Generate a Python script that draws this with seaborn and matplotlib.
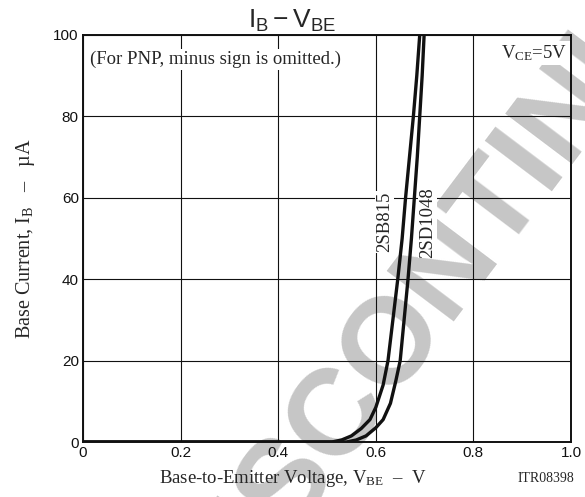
import numpy as np
import pandas as pd
import matplotlib
matplotlib.use("Agg")
import matplotlib.pyplot as plt
import seaborn as sns

# Data (V_BE in V, I_B in uA)
v_2sb815 = [0.0, 0.51, 0.53, 0.55, 0.57, 0.588, 0.60, 0.615, 0.625, 0.635, 0.645, 0.654, 0.661, 0.669, 0.677, 0.684, 0.690, 0.693]
i_2sb815 = [0.0, 0.0, 0.5, 1.5, 3.3, 5.5, 8.5, 14, 20, 30, 40, 50, 60, 70, 80, 90, 100, 105]
v_2sd1048 = [0.0, 0.54, 0.56, 0.58, 0.60, 0.615, 0.63, 0.641, 0.650, 0.658, 0.666, 0.673, 0.679, 0.685, 0.690, 0.695, 0.699, 0.701]
i_2sd1048 = [0.0, 0.0, 0.5, 1.5, 3.5, 5.5, 9.5, 15, 20, 30, 40, 50, 60, 70, 80, 90, 100, 105]
x_ticks = [0, 0.2, 0.4, 0.6, 0.8, 1.0]
x_tick_labels = ["0", "0.2", "0.4", "0.6", "0.8", "1.0"]
y_ticks = [0, 20, 40, 60, 80, 100]
y_tick_labels = ["0", "20", "40", "60", "80", "100"]

df = pd.concat([
    pd.DataFrame({"V": v_2sb815, "I": i_2sb815, "dev": "2SB815"}),
    pd.DataFrame({"V": v_2sd1048, "I": i_2sd1048, "dev": "2SD1048"}),
])

sns.set_style("white")
plt.rcParams["font.family"] = ["Liberation Sans", "DejaVu Sans"]
plt.rcParams["mathtext.fontset"] = "custom"
plt.rcParams["mathtext.rm"] = "Liberation Serif"
plt.rcParams["mathtext.it"] = "Liberation Serif"
plt.rcParams["mathtext.sf"] = "Liberation Sans"

fig = plt.figure(figsize=(5.85, 4.97), dpi=100)
ax = fig.add_axes([83/585, 1-442/497, (571-83)/585, (442-35)/497])
ax.set_facecolor("none")
fig.patch.set_facecolor("white")

# watermark (light grey, behind everything)
ax.text(0.80, 0.52, "DISCONTINUED", transform=fig.transFigure, fontsize=88,
        color="#c6c6c6", rotation=53, ha="center", va="center",
        family="Liberation Sans", fontweight="bold", zorder=0.3, clip_on=False)

sns.lineplot(data=df, x="V", y="I", units="dev", estimator=None, color="#111111",
             linewidth=2.4, ax=ax, legend=False, sort=False, zorder=3)
ax.plot([0, 0.55], [0, 0], color="#111111", lw=2.4, zorder=3)

ax.set_xlim(0, 1.0)
ax.set_ylim(0, 100)
ax.set_xticks(x_ticks)
ax.set_xticklabels(x_tick_labels)
ax.set_yticks(y_ticks)
ax.set_yticklabels(y_tick_labels)
ax.tick_params(length=0, labelsize=11, pad=3, colors="#111111")
ax.grid(True, color="#111111", lw=0.8)
ax.set_axisbelow(False)
for gl in ax.get_xgridlines() + ax.get_ygridlines():
    gl.set_zorder(0.5)
for s in ax.spines.values():
    s.set_color("#111111")
    s.set_linewidth(1.4)
    s.set_zorder(4)

ax.set_xlabel(r"Base-to-Emitter Voltage, $\mathrm{V_{BE}}$  –  V", family="Liberation Serif",
              fontsize=13.5)
ax.xaxis.set_label_coords((293-83)/488, -0.063)
ax.set_ylabel(r"Base Current, $\mathrm{I_B}$   –   µA", family="Liberation Serif",
              fontsize=14.5, labelpad=12)
fig.text(292/585, 1-21/497, r"$\mathsf{I_B - V_{BE}}$", fontsize=19,
         ha="center", va="center")

bbox = dict(facecolor="white", edgecolor="none", pad=1.5)
ax.text(0.015, 0.94, "(For PNP, minus sign is omitted.)", transform=ax.transAxes,
        family="Liberation Serif", fontsize=13.5, ha="left", va="center", bbox=bbox, zorder=5)
ax.text(0.993, 0.955, r"$\mathrm{V_{CE}}$=5V", transform=ax.transAxes,
        family="Liberation Serif", fontsize=13.5, ha="right", va="center", bbox=bbox, zorder=5)
ax.text(0.618, 54, "2SB815", rotation=90, family="Liberation Serif", fontsize=13.5,
        ha="center", va="center", bbox=dict(facecolor="white", edgecolor="none", pad=0.5), zorder=5)
ax.text(0.706, 54, "2SD1048", rotation=90, family="Liberation Serif", fontsize=13.5,
        ha="center", va="center", bbox=dict(facecolor="white", edgecolor="none", pad=0.5), zorder=5)
fig.text(546/585, 1-479/497, "ITR08398", family="Liberation Serif", fontsize=10,
         ha="center", va="center")

fig.savefig("out.png", dpi=100)
